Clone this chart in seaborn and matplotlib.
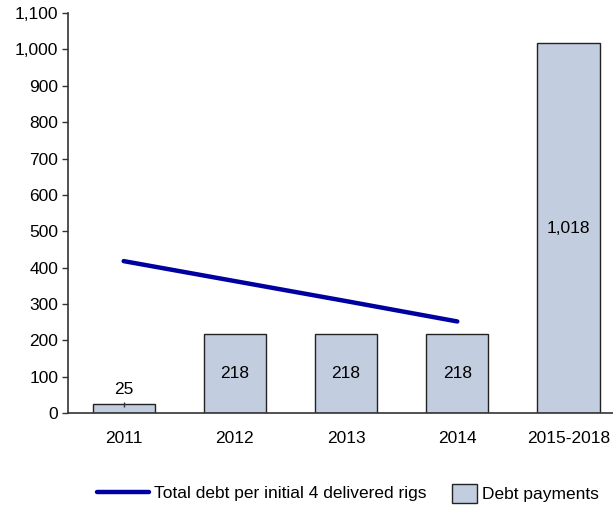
import matplotlib
matplotlib.use("Agg")
import matplotlib.pyplot as plt
import seaborn as sns
import pandas as pd
from matplotlib.lines import Line2D
from matplotlib.patches import Patch

periods = ["2011", "2012", "2013", "2014", "2015-2018"]
debt_payments = [25, 218, 218, 218, 1018]
line_periods = ["2011", "2012", "2013", "2014"]
total_debt = [418, 363, 308, 252]
yticks = [0, 100, 200, 300, 400, 500, 600, 700, 800, 900, 1000, 1100]

sns.set_theme(style="white")
plt.rcParams["font.family"] = ["Liberation Sans", "DejaVu Sans"]
plt.rcParams["text.color"] = "black"
plt.rcParams["xtick.color"] = "black"
plt.rcParams["ytick.color"] = "black"
FS = 12.5

bar_color = "#C3CDE0"
line_color = "#0000A0"
edge = "#222222"

fig = plt.figure(figsize=(6.13, 5.05), dpi=100)
ax = fig.add_axes([0.111, 0.182, 0.889, 0.792])

df_bar = pd.DataFrame({"period": periods, "value": debt_payments})
sns.barplot(data=df_bar, x="period", y="value", order=periods, color=bar_color,
            saturation=1, width=0.56, edgecolor=edge, linewidth=1.0, ax=ax)

df_line = pd.DataFrame({"period": line_periods, "value": total_debt})
sns.lineplot(data=df_line, x="period", y="value", color=line_color, linewidth=3.2,
             sort=False, ax=ax)

# value labels
cont = ax.containers[0]
ax.bar_label(cont, labels=[""] + [f"{v:,}" for v in debt_payments[1:]],
             label_type="center", fontsize=FS, color="black")
ax.bar_label(cont, labels=[f"{debt_payments[0]:,}"] + [""] * 4, padding=5,
             fontsize=FS, color="black")
# small leader tick on the first bar
ax.errorbar([0], [debt_payments[0]], yerr=[[8], [6]], fmt="none",
            ecolor="#333333", elinewidth=1.0, capsize=0)

ax.set_xlim(-0.5, 4.4)
ax.set_ylim(0, 1100)
ax.set_yticks(yticks)
ax.set_yticklabels([f"{t:,}" for t in yticks], fontsize=FS)
ax.tick_params(axis="x", labelsize=FS, length=0, pad=13, labelcolor="black")
ax.tick_params(axis="y", left=True, length=4, width=1, color="#333333", pad=3,
               labelcolor="black")
ax.set_xlabel("")
ax.set_ylabel("")
for s in ["top", "right"]:
    ax.spines[s].set_visible(False)
for s in ["left", "bottom"]:
    ax.spines[s].set_color("#333333")
    ax.spines[s].set_linewidth(1.2)
ax.grid(False)
if ax.get_legend():
    ax.get_legend().remove()

leg1 = fig.legend([Line2D([0], [0], color=line_color, linewidth=3.2)],
                  ["Total debt per initial 4 delivered rigs"],
                  loc="center left", bbox_to_anchor=(0.158, 0.023), frameon=False,
                  fontsize=FS, handlelength=3.0, handletextpad=0.3,
                  borderpad=0, borderaxespad=0, labelcolor="black")
leg2 = fig.legend([Patch(facecolor=bar_color, edgecolor=edge, linewidth=1.0)],
                  ["Debt payments"],
                  loc="center left", bbox_to_anchor=(0.737, 0.023), frameon=False,
                  fontsize=FS, handlelength=1.45, handleheight=1.35, handletextpad=0.3,
                  borderpad=0, borderaxespad=0, labelcolor="black")

fig.savefig("out.png", dpi=100)
